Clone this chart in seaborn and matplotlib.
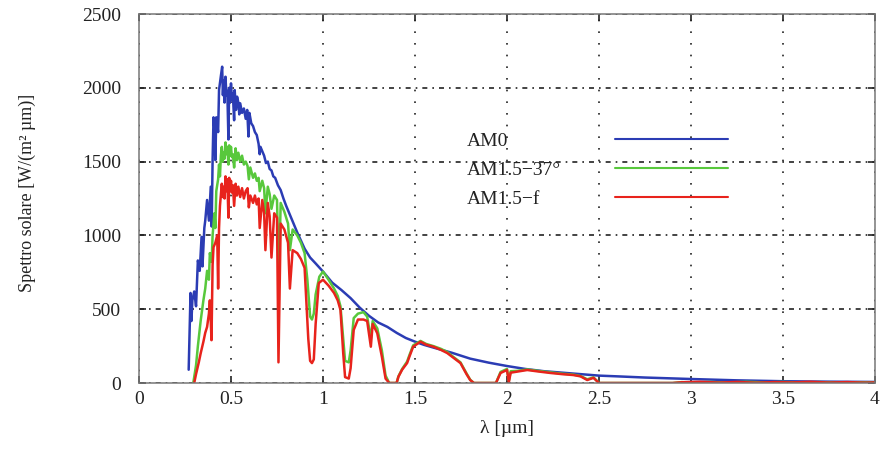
import matplotlib
matplotlib.use("Agg")
import matplotlib.pyplot as plt
import seaborn as sns

# ---------------- data ----------------
series_labels = ["AM0", "AM1.5\u221237\u00b0", "AM1.5\u2212f"]
series_colors = ["#2b3cb4", "#58c83c", "#e8231c"]

am0_x = [0.270, 0.275, 0.280, 0.285, 0.290, 0.300, 0.310, 0.320, 0.330, 0.340,
         0.345, 0.355, 0.360, 0.370, 0.380, 0.390, 0.395, 0.400, 0.405, 0.410,
         0.415, 0.420, 0.430, 0.435, 0.445, 0.452, 0.456, 0.460, 0.465, 0.470,
         0.475, 0.480, 0.486, 0.490, 0.495, 0.500, 0.505, 0.510, 0.517, 0.520,
         0.527, 0.533, 0.540, 0.545, 0.550, 0.560, 0.570, 0.580, 0.588, 0.595,
         0.600, 0.610, 0.620, 0.630, 0.640, 0.650, 0.656, 0.660, 0.670, 0.680,
         0.690, 0.700, 0.710, 0.720, 0.730, 0.740, 0.755, 0.770, 0.785, 0.800,
         0.830, 0.860, 0.900, 0.930, 0.960, 1.000, 1.050, 1.100, 1.150, 1.200,
         1.250, 1.300, 1.350, 1.400, 1.450, 1.500, 1.550, 1.600, 1.700, 1.750,
         1.800, 1.900, 2.000, 2.100, 2.200, 2.300, 2.400, 2.500, 2.600, 2.750,
         3.000, 3.250, 3.500, 3.750, 4.000]
am0_y = [90, 350, 610, 420, 560, 620, 520, 830, 760, 990,
         790, 1050, 1100, 1240, 1100, 1330, 1060, 1510, 1800, 1720,
         1510, 1800, 1700, 1985, 2080, 2143, 1950, 2050, 1900, 2075,
         1950, 1980, 1650, 2000, 1900, 2030, 1920, 1960, 1780, 1985,
         1850, 1940, 1900, 1820, 1895, 1830, 1860, 1790, 1850, 1670,
         1830, 1760, 1740, 1700, 1680, 1620, 1550, 1600, 1570, 1540,
         1490, 1500, 1450, 1440, 1400, 1390, 1340, 1307, 1250, 1200,
         1110, 1020, 910, 850, 810, 755, 680, 630, 575, 510,
         455, 410, 380, 340, 305, 280, 258, 240, 205, 185,
         165, 138, 115, 95, 80, 70, 60, 50, 45, 37,
         27, 18, 12, 9, 7]

am15g_x = [0.295, 0.310, 0.320, 0.335, 0.350, 0.360, 0.370, 0.380, 0.385, 0.395,
           0.400, 0.410, 0.415, 0.420, 0.430, 0.435, 0.440, 0.445, 0.450, 0.455,
           0.460, 0.465, 0.470, 0.475, 0.480, 0.486, 0.490, 0.495, 0.500, 0.505,
           0.510, 0.517, 0.525, 0.532, 0.540, 0.550, 0.560, 0.570, 0.580, 0.590,
           0.597, 0.605, 0.620, 0.630, 0.640, 0.650, 0.656, 0.670, 0.680, 0.687,
           0.700, 0.710, 0.720, 0.735, 0.750, 0.760, 0.770, 0.790, 0.810, 0.820,
           0.835, 0.860, 0.880, 0.900, 0.915, 0.930, 0.940, 0.950, 0.960, 0.980,
           1.000, 1.030, 1.060, 1.080, 1.095, 1.110, 1.120, 1.140, 1.150, 1.167,
           1.190, 1.220, 1.240, 1.260, 1.270, 1.295, 1.320, 1.340, 1.360, 1.400,
           1.410, 1.430, 1.457, 1.470, 1.490, 1.530, 1.560, 1.600, 1.640, 1.675,
           1.710, 1.747, 1.780, 1.800, 1.820, 1.940, 1.965, 2.000, 2.010, 2.020,
           2.055, 2.110, 2.170, 2.236, 2.300, 2.360, 2.400, 2.436, 2.470, 2.500,
           2.900, 2.950, 3.000, 3.100, 3.200, 3.300, 3.400, 3.500, 3.600, 3.700,
           3.800, 3.900, 4.000]
am15g_y = [0, 120, 250, 420, 560, 640, 760, 700, 880, 820,
           1000, 1150, 1050, 1300, 1380, 1480, 1400, 1540, 1600, 1500,
           1560, 1520, 1630, 1550, 1600, 1480, 1610, 1540, 1600, 1530,
           1550, 1460, 1590, 1510, 1560, 1500, 1540, 1480, 1500, 1470,
           1380, 1460, 1390, 1420, 1370, 1390, 1300, 1370, 1320, 1150,
           1330, 1280, 1180, 1270, 1240, 700, 1220, 1160, 1080, 900,
           1040, 1000, 950, 880, 700, 450, 430, 470, 600, 720,
           755, 700, 640, 590, 520, 300, 150, 140, 220, 440,
           470, 480, 450, 300, 420, 370, 220, 50, 0, 0,
           45, 95, 145, 190, 255, 285, 265, 250, 232, 210,
           175, 140, 65, 22, 0, 0, 75, 95, 15, 80,
           82, 92, 82, 72, 63, 57, 47, 25, 38, 0,
           0, 6, 2, 7, 3, 8, 4, 7, 3, 6,
           2, 5, 3]

am15f_x = [0.300, 0.310, 0.325, 0.335, 0.350, 0.360, 0.370, 0.380, 0.385, 0.390,
           0.394, 0.400, 0.405, 0.415, 0.425, 0.430, 0.435, 0.440, 0.450, 0.455,
           0.460, 0.465, 0.470, 0.475, 0.480, 0.486, 0.490, 0.495, 0.500, 0.505,
           0.510, 0.517, 0.525, 0.532, 0.540, 0.550, 0.560, 0.570, 0.580, 0.590,
           0.597, 0.605, 0.620, 0.630, 0.640, 0.650, 0.656, 0.670, 0.680, 0.687,
           0.700, 0.710, 0.720, 0.735, 0.750, 0.758, 0.770, 0.790, 0.810, 0.820,
           0.835, 0.860, 0.880, 0.900, 0.910, 0.920, 0.930, 0.940, 0.950, 0.960,
           0.977, 1.000, 1.030, 1.060, 1.080, 1.095, 1.110, 1.120, 1.140, 1.150,
           1.167, 1.190, 1.220, 1.240, 1.260, 1.270, 1.295, 1.320, 1.340, 1.360,
           1.400, 1.410, 1.430, 1.457, 1.470, 1.490, 1.530, 1.560, 1.600, 1.640,
           1.675, 1.710, 1.747, 1.780, 1.800, 1.820, 1.940, 1.965, 2.000, 2.010,
           2.020, 2.055, 2.110, 2.170, 2.236, 2.300, 2.360, 2.400, 2.436, 2.470,
           2.500, 2.900, 2.950, 3.050, 3.150, 3.250, 3.350, 3.450, 3.550, 3.650,
           3.750, 3.850, 3.950, 4.000]
am15f_y = [0, 60, 140, 200, 280, 340, 380, 470, 560, 420,
           290, 800, 920, 950, 1000, 640, 1050, 1200, 1350, 1260,
           1330, 1250, 1400, 1300, 1380, 1120, 1390, 1300, 1370, 1290,
           1340, 1200, 1350, 1270, 1330, 1260, 1320, 1250, 1300, 1320,
           1190, 1270, 1220, 1270, 1210, 1250, 1050, 1240, 1150, 900,
           1220, 1130, 850, 1150, 1120, 140, 1080, 1040, 950, 640,
           900, 880, 840, 780, 540, 300, 150, 135, 160, 400,
           677, 700, 660, 610, 560, 495, 200, 40, 30, 100,
           360, 430, 430, 420, 246, 400, 337, 178, 30, 0,
           0, 43, 90, 135, 180, 246, 280, 260, 246, 225,
           203, 170, 135, 60, 20, 0, 0, 68, 88, 5,
           70, 77, 88, 78, 68, 60, 54, 45, 20, 35,
           0, 0, 5, 8, 3, 7, 2, 6, 4, 8,
           3, 6, 2, 4]

x_ticks = [0, 0.5, 1, 1.5, 2, 2.5, 3, 3.5, 4]
x_tick_labels = ["0", "0.5", "1", "1.5", "2", "2.5", "3", "3.5", "4"]
y_ticks = [0, 500, 1000, 1500, 2000, 2500]
y_tick_labels = ["0", "500", "1000", "1500", "2000", "2500"]

# ---------------- style ----------------
sns.set_theme(style="white")
plt.rcParams["font.family"] = ["Liberation Serif", "DejaVu Serif"]
plt.rcParams["axes.unicode_minus"] = True

W, H = 883, 450
fig = plt.figure(figsize=(W / 100, H / 100), dpi=100)
ax = fig.add_axes([139 / W, 1 - 383 / H, 736 / W, 369 / H])

series = [(am0_x, am0_y), (am15g_x, am15g_y), (am15f_x, am15f_y)]
for (xs, ys), col in zip(series, series_colors):
    sns.lineplot(x=xs, y=ys, color=col, linewidth=1.8, ax=ax,
                 estimator=None, sort=False, legend=False)

ax.set_xlim(0, 4)
ax.set_ylim(0, 2500)
ax.set_xticks(x_ticks)
ax.set_xticklabels(x_tick_labels)
ax.set_yticks(y_ticks)
ax.set_yticklabels(y_tick_labels)

ax.set_axisbelow(True)
ax.xaxis.grid(True, linestyle=(0, (1, 6)), color="#222222", linewidth=1.2)
ax.yaxis.grid(True, linestyle=(0, (3, 3, 1, 3)), color="#222222", linewidth=1.2)

for sp in ax.spines.values():
    sp.set_visible(True)
    sp.set_color("#777777")
    sp.set_linewidth(1.1)

ax.tick_params(axis="both", which="major", direction="in", length=5, width=1.2,
               color="#222222", labelcolor="#222222", labelsize=14,
               top=True, right=True, bottom=True, left=True)
ax.tick_params(axis="x", pad=6)
ax.tick_params(axis="y", pad=13)

ax.set_xlabel("\u03bb [\u00b5m]", fontsize=14, color="#222222")
ax.xaxis.set_label_coords(0.5, -0.100)
ax.xaxis.label.set_verticalalignment("top")
ax.set_ylabel("Spettro solare [W/(m\u00b2 \u00b5m)]", fontsize=13, color="#222222")
ax.yaxis.set_label_coords(-0.140, 0.515)

# legend: labels on the left column, line samples in a right column
lines = ax.get_lines()[:3]
leg1 = ax.legend(lines, series_labels, loc="center left",
                 bbox_to_anchor=(0.4457, 0.577), frameon=False,
                 handlelength=0, handletextpad=0, borderpad=0, borderaxespad=0,
                 labelspacing=0.58, fontsize=14)
for h in leg1.legend_handles:
    h.set_visible(False)
for t in leg1.get_texts():
    t.set_color("#222222")
ax.add_artist(leg1)
leg2 = ax.legend(lines, [" ", " ", " "], loc="center left",
                 bbox_to_anchor=(0.6467, 0.577), frameon=False,
                 handlelength=5.8, handletextpad=0, borderpad=0, borderaxespad=0,
                 labelspacing=0.58, fontsize=14)
for h in leg2.legend_handles:
    h.set_linewidth(1.5)

fig.savefig("out.png", dpi=100, facecolor="white")
